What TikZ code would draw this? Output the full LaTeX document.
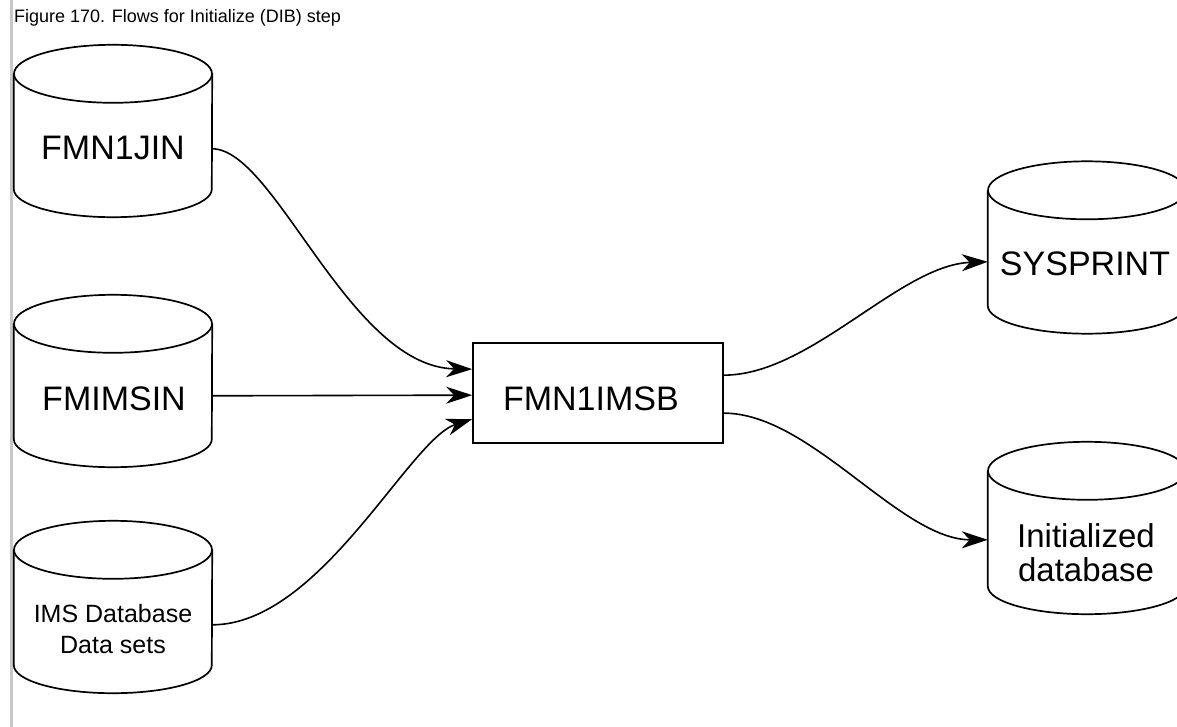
\documentclass[tikz,border=0pt]{standalone}
\usepackage{fontspec}
\setmainfont{Liberation Sans}
\usetikzlibrary{arrows.meta,calc}
\definecolor{barclr}{HTML}{C8C8C8}
\tikzset{
  shp/.style={draw=black, line width=1.7pt},
  cylbox/.style={minimum width=198pt, minimum height=172pt, inner sep=0pt, draw=none},
  lbl/.style={font=\fontsize{34}{40}\selectfont, inner sep=0pt},
  flow/.style={draw=black, line width=1.6pt, -{Stealth[length=26pt,width=17pt,inset=8pt]}},
}
\newcommand{\drawcyl}[1]{%
  \draw[shp] ($(#1.north west)+(0,29)$) -- ($(#1.south west)+(0,-28)$)
     arc[start angle=180,end angle=360,x radius=99pt,y radius=28pt]
     -- ($(#1.north east)+(0,29)$);
  \draw[shp] ($(#1.north)+(0,29)$) ellipse[x radius=99pt, y radius=29pt];
}
\begin{document}
\begin{tikzpicture}[x=1pt,y=-1pt]
\clip (0,0) rectangle (1177,727);
\fill[white] (0,0) rectangle (1177,727);
\fill[barclr] (9.5,0) rectangle (12.5,727);
\node[anchor=base west, font=\fontsize{18}{21}\selectfont, inner sep=0pt] (title) at (14,23) {Figure 170. Flows for Initialize (DIB) step};

% cylinders
\node[cylbox] (c1) at (113,131) {};
\node[cylbox] (c2) at (113,381) {};
\node[cylbox] (c3) at (113,607) {};
\node[cylbox] (c4) at (1087,247.5) {};
\node[cylbox] (c5) at (1087,528) {};
\drawcyl{c1}
\drawcyl{c2}
\drawcyl{c3}
\drawcyl{c4}
\drawcyl{c5}

\node[lbl, anchor=base] (t1) at (113,160) {FMN1JIN};
\node[lbl, anchor=base] (t2) at (114,410) {FMIMSIN};
\node[inner sep=0pt, anchor=north, align=center, font=\fontsize{25}{31}\selectfont] (t3) at (113,604) {IMS Database\\Data sets};
\node[lbl, anchor=base] (t4) at (1085,275) {SYSPRINT};
\node[inner sep=0pt, anchor=north, align=center, font=\fontsize{33}{34}\selectfont] (t5) at (1086,523) {Initialized\\database};

% program box
\node[shp, font=\fontsize{34}{40}\selectfont, text width=190pt, inner xsep=30pt, inner ysep=0pt,
      align=left, minimum height=100pt, text height=34pt, text depth=0pt] (box) at (598,393) {FMN1IMSB};

% flows
\draw[flow] ($(c1.north east)+(0,104)$) .. controls +(63,0) and +(-123,-2) .. ($(box.north west)+(0,27)$);
\draw[flow] ($(c2.north east)+(0,101)$) -- ($(box.north west)+(0,53)$);
\draw[flow] ($(c3.north east)+(0,104)$) .. controls +(108,0) and +(-63,20) .. ($(box.north west)+(0,77)$);
\draw[flow] ($(box.north east)+(0,33)$) .. controls +(87,0) and +(-88,3) .. ($(c4.north west)+(0,100.5)$);
\draw[flow] ($(box.north east)+(0,71)$) .. controls +(87,0) and +(-88,0) .. ($(c5.north west)+(0,98)$);
\end{tikzpicture}
\end{document}
